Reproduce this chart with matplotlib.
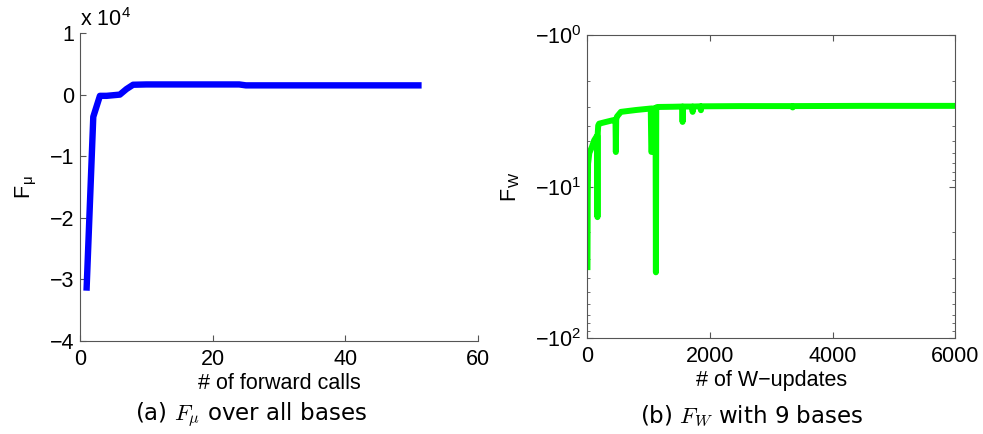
import numpy as np
import matplotlib
matplotlib.use("Agg")
import matplotlib.pyplot as plt
from matplotlib.ticker import FixedLocator, FixedFormatter, LogLocator, NullFormatter

plt.rcParams['font.family'] = ['Liberation Sans', 'DejaVu Sans']
plt.rcParams['mathtext.fontset'] = 'cm'

# (a) F_mu over forward calls, in units of 1e4
calls = [1, 2, 3, 4, 5, 6, 7, 8, 10, 15, 20, 24, 25, 30, 40, 51]
f_mu = [-3.13, -0.36, -0.02, -0.02, -0.01, 0.0, 0.09, 0.16, 0.165, 0.165,
        0.165, 0.165, 0.15, 0.15, 0.15, 0.15]

# (b) |F_W| over W-updates (axis shows negative values on log scale)
updates = [10, 14, 20, 40, 80, 119, 168, 173, 178, 185, 200, 300, 418,
           466, 472, 478, 490, 554, 800, 1040, 1050, 1059, 1068, 1080,
           1118, 1124, 1130, 1151, 1400, 1552, 1558, 1564, 1700, 1716,
           1722, 1728, 1850, 1857, 1863, 1869, 2500, 3340, 3350, 3360,
           4500, 6000]
f_w = [34.0, 12.0, 7.06, 6.0, 5.5, 4.95, 4.6, 15.9, 4.4, 3.95, 3.84, 3.75,
       3.65, 3.62, 5.91, 3.6, 3.45, 3.21, 3.12, 3.05, 5.9, 5.9, 3.05, 3.05,
       3.03, 36.8, 3.0, 2.98, 2.97, 2.96, 3.74, 2.96, 2.96, 2.96,
       3.21, 2.96, 2.95, 3.13, 2.95, 2.95, 2.94, 2.94, 3.0, 2.94,
       2.93, 2.93]

fig = plt.figure(figsize=(9.83, 4.34), dpi=100)
gray = '#555555'
fs = 15.5

ax1 = fig.add_axes([0.0814, 0.214, 0.405, 0.710])
ax1.plot(calls, f_mu, color=(0, 0, 1), lw=4.6)
ax1.set_xlim(0, 60)
ax1.set_ylim(-4, 1)
ax1.set_xticks([0, 20, 40, 60])
ax1.set_yticks([-4, -3, -2, -1, 0, 1])
ax1.set_yticklabels(['\u22124', '\u22123', '\u22122', '\u22121', '0', '1'])
ax1.spines['top'].set_visible(False)
ax1.spines['right'].set_visible(False)
for s in ['left', 'bottom']:
    ax1.spines[s].set_color(gray)
ax1.tick_params(direction='in', labelsize=fs, length=4, color=gray, pad=4)
ax1.tick_params(axis='x', pad=6)
ax1.set_xlabel('# of forward calls', fontsize=fs, labelpad=2)
ax1.set_ylabel(r'F$_\mathregular{\mu}$', fontsize=fs, labelpad=8)
ax1.text(0.0, 1.005, r'x 10$^\mathregular{4}$', transform=ax1.transAxes,
         fontsize=fs, ha='left', va='bottom')

ax2 = fig.add_axes([0.597, 0.221, 0.375, 0.698])
ax2.plot(updates, f_w, color=(0, 1, 0), lw=4.3)
ax2.set_yscale('log')
ax2.set_ylim(100, 1)
ax2.set_xlim(0, 6000)
ax2.set_xticks([0, 2000, 4000, 6000])
ax2.yaxis.set_major_locator(FixedLocator([1, 10, 100]))
ax2.yaxis.set_major_formatter(FixedFormatter([r'$\mathregular{-10^0}$',
                                              r'$\mathregular{-10^1}$',
                                              r'$\mathregular{-10^2}$']))
ax2.yaxis.set_minor_locator(LogLocator(base=10, subs=np.arange(2, 10)))
ax2.yaxis.set_minor_formatter(NullFormatter())
for s in ax2.spines.values():
    s.set_color(gray)
ax2.tick_params(which='both', direction='in', labelsize=fs, color=gray,
                top=True, right=True, pad=4)
ax2.tick_params(axis='x', pad=6)
ax2.tick_params(which='major', length=4)
ax2.tick_params(which='minor', length=2)
ax2.set_xlabel('# of W\u2212updates', fontsize=fs, labelpad=2)
ax2.set_ylabel(r'F$_\mathregular{W}$', fontsize=fs, labelpad=9)

fig.text(0.255, 0.012, r'(a) $F_\mu$ over all bases', fontsize=16.5,
         family='DejaVu Sans', ha='center', va='bottom')
fig.text(0.765, 0.012, r'(b) $F_W$ with 9 bases', fontsize=16.5,
         family='DejaVu Sans', ha='center', va='bottom')

fig.savefig('out.png', dpi=100)
